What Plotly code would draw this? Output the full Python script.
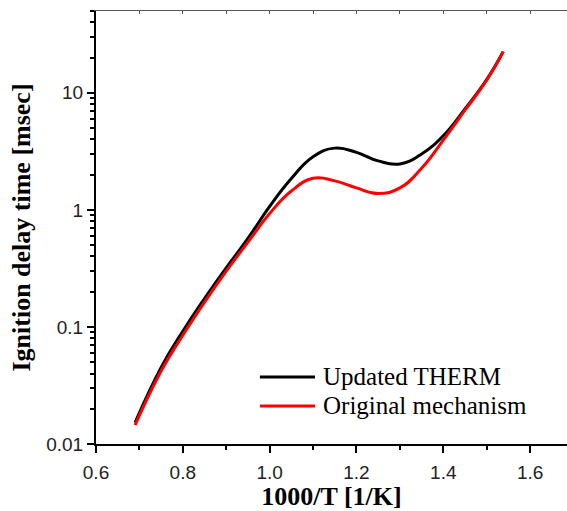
import plotly.graph_objects as go

x_therm = [0.69, 0.75, 0.80, 0.85, 0.90, 0.95, 1.00, 1.05, 1.10, 1.15, 1.20, 1.25, 1.30, 1.35, 1.40, 1.45, 1.50, 1.538]
y_therm = [0.0152, 0.045, 0.092, 0.175, 0.32, 0.57, 1.07, 1.85, 2.85, 3.37, 3.1, 2.62, 2.47, 3.0, 4.3, 7.3, 13.0, 22.5]

x_orig = [0.69, 0.75, 0.80, 0.85, 0.90, 0.95, 1.00, 1.05, 1.10, 1.15, 1.20, 1.25, 1.30, 1.35, 1.40, 1.45, 1.50, 1.538]
y_orig = [0.0145, 0.042, 0.085, 0.163, 0.30, 0.53, 0.93, 1.45, 1.86, 1.77, 1.54, 1.38, 1.54, 2.27, 3.95, 7.1, 12.8, 22.5]

names = ["Updated THERM", "Original mechanism"]
colors = ["black", "#ff0000"]

fig = go.Figure()
fig.add_trace(go.Scatter(x=x_therm, y=y_therm, mode="lines", name=names[0], showlegend=False,
                         line=dict(color=colors[0], width=3, shape="spline", smoothing=1.3)))
fig.add_trace(go.Scatter(x=x_orig, y=y_orig, mode="lines", name=names[1], showlegend=False,
                         line=dict(color=colors[1], width=3, shape="spline", smoothing=1.3)))

tickfont = dict(family="Liberation Sans, Arial", size=19, color="#222")
titlefont = dict(family="Liberation Serif, Times New Roman", size=26, color="black")
legfont = dict(family="Liberation Serif, Times New Roman", size=25, color="black")

# manual legend (longer line samples, as in the original)
leg_rows = [0.155, 0.088]
for name, col, yr in zip(names, colors, leg_rows):
    fig.add_shape(type="line", xref="paper", yref="paper", x0=0.348, x1=0.465, y0=yr, y1=yr,
                  line=dict(color=col, width=3))
    fig.add_annotation(xref="paper", yref="paper", x=0.478, y=yr, xanchor="left", yanchor="middle",
                       text=name, showarrow=False, font=legfont)

fig.update_layout(
    width=567, height=511,
    margin=dict(l=96, r=0, t=11, b=67),
    paper_bgcolor="white", plot_bgcolor="white",
    showlegend=False,
    xaxis=dict(range=[0.6, 1.685], dtick=0.2, tick0=0.6, tickformat=".1f",
               showline=True, linecolor="black", linewidth=2,
               ticks="outside", ticklen=7, tickwidth=2, tickcolor="black",
               minor=dict(ticks="outside", ticklen=4, tickwidth=1.5, dtick=0.1, tickcolor="black", showgrid=False),
               showgrid=False, zeroline=False, tickfont=tickfont, ticklabelstandoff=3,
               title=dict(text="<b>1000/T [1/K]</b>", font=titlefont, standoff=6)),
    yaxis=dict(type="log", range=[-2, 1.699], dtick=1,
               showline=True, linecolor="black", linewidth=2,
               ticks="outside", ticklen=7, tickwidth=2, tickcolor="black",
               minor=dict(ticks="outside", ticklen=4, tickwidth=1.5, dtick="D1", tickcolor="black", showgrid=False),
               showgrid=False, zeroline=False, tickfont=tickfont,
               title=dict(text="<b>Ignition delay time [msec]</b>", font=titlefont, standoff=8)),
    xaxis2=dict(overlaying="x", side="top", range=[0.6, 1.685], dtick=0.1, tick0=0.6,
                showline=True, linecolor="#555", linewidth=1,
                ticks="inside", ticklen=3, tickwidth=1, tickcolor="#555",
                showticklabels=False, showgrid=False, zeroline=False),
)
fig.add_trace(go.Scatter(x=[None], y=[None], xaxis="x2", showlegend=False, hoverinfo="skip"))

fig.write_html("out.html")
